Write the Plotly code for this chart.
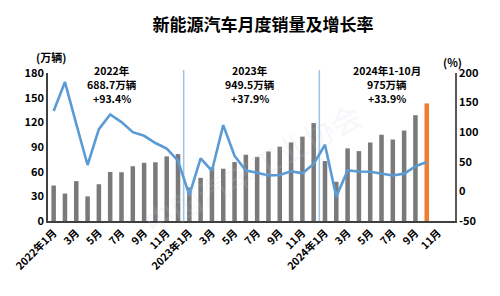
import plotly.graph_objects as go

# ---- data ----
months = ["2022年1月", "2月", "3月", "4月", "5月", "6月", "7月", "8月", "9月", "10月", "11月", "12月",
          "2023年1月", "2月", "3月", "4月", "5月", "6月", "7月", "8月", "9月", "10月", "11月", "12月",
          "2024年1月", "2月", "3月", "4月", "5月", "6月", "7月", "8月", "9月", "10月", "11月", "12月"]
sales = [43.1, 33.4, 48.4, 29.9, 44.7, 59.6, 59.3, 66.6, 70.8, 71.4, 78.6, 81.4,
         40.8, 52.5, 65.3, 63.6, 71.7, 80.6, 78.0, 84.6, 90.4, 95.6, 102.6, 119.1,
         72.9, 47.7, 88.3, 85.0, 95.5, 104.9, 99.1, 110.0, 128.7, 143.0]
growth = [135.8, 184.7, 114.0, 44.6, 105.2, 130.0, 117.0, 100.0, 93.9, 81.7, 72.3, 51.8,
          -6.3, 55.9, 34.8, 112.0, 60.2, 35.2, 31.6, 27.0, 27.7, 33.9, 30.5, 46.4,
          78.8, -9.2, 35.3, 33.5, 33.3, 30.1, 27.0, 30.0, 42.3, 49.6]
note_years = ["2022年", "2023年", "2024年1-10月"]
note_totals = ["688.7万辆", "949.5万辆", "975万辆"]
note_growth = ["+93.4%", "+37.9%", "+33.9%"]
left_ticks = [0, 30, 60, 90, 120, 150, 180]
right_ticks = [-50, 0, 50, 100, 150, 200]

x_data = list(range(len(sales)))
bar_colors = ["#7A7A7A"] * (len(sales) - 1) + ["#ED7D31"]
tick_idx = list(range(0, len(months), 2))

FONT = "Noto Sans CJK SC"
W, H = 500, 296
ML, MR, MT, MB = 43, 45, 73, 75
pw, ph = W - ML - MR, H - MT - MB


def px(x):
    return (x - ML) / pw


def py(y):
    return (H - MB - y) / ph


fig = go.Figure()
fig.add_trace(go.Bar(x=x_data, y=sales, marker=dict(color=bar_colors, line=dict(width=0)),
                     yaxis="y", width=0.4, showlegend=False))
fig.add_trace(go.Scatter(x=x_data, y=growth, mode="lines", yaxis="y2",
                         line=dict(color="#5B9BD5", width=2.6), showlegend=False))

# year separators
for xs in (11.5, 23.5):
    fig.add_shape(type="line", xref="x", yref="paper", x0=xs, x1=xs, y0=0, y1=1.02,
                  line=dict(color="#9DC3E6", width=1.5), layer="below")

# faint watermark
fig.add_annotation(text="中国汽车工业协会", x=px(250), y=py(168), xref="paper", yref="paper",
                   showarrow=False, textangle=-28,
                   font=dict(family=FONT, size=30, color="rgba(200,210,225,0.18)"))

# year notes
note_x = [108, 247, 386]
for i, cx in enumerate(note_x):
    for txt, cy in ((note_years[i], 70.5), (note_totals[i], 84.5), (note_growth[i], 98.5)):
        fig.add_annotation(text=f"<b>{txt}</b>", x=px(cx), y=py(cy), xref="paper", yref="paper",
                           showarrow=False, xanchor="center", yanchor="middle", borderpad=0,
                           font=dict(family=FONT, size=10.5, color="#000"))

fig.add_annotation(text="<b>(万辆)</b>", x=px(46), y=py(57), xref="paper", yref="paper",
                   showarrow=False, xanchor="center", yanchor="middle",
                   font=dict(family=FONT, size=11, color="#000"))
fig.add_annotation(text="<b>(%)</b>", x=px(452), y=py(62), xref="paper", yref="paper",
                   showarrow=False, xanchor="center", yanchor="middle",
                   font=dict(family=FONT, size=11, color="#000"))

fig.update_layout(
    width=W, height=H,
    margin=dict(l=ML, r=MR, t=MT, b=MB),
    paper_bgcolor="white", plot_bgcolor="white",
    title=dict(text="<b>新能源汽车月度销量及增长率</b>", x=0.526, xanchor="center", y=0.915, yanchor="middle",
               font=dict(family=FONT, size=17, color="#000")),
    xaxis=dict(range=[-0.5, len(months) - 0.5], tickmode="array", tickvals=tick_idx,
               ticktext=[f"<b>{months[i]}</b>" for i in tick_idx], tickangle=-45,
               tickfont=dict(family=FONT, size=10.5, color="#000"), showgrid=False,
               showline=True, linecolor="#404040", linewidth=1.5, ticks="", zeroline=False),
    yaxis=dict(range=[0, 180], tickvals=left_ticks, ticktext=[f"<b>{v}</b>" for v in left_ticks],
               tickfont=dict(family=FONT, size=11, color="#000"), showgrid=False,
               showline=True, linecolor="#404040", linewidth=1.5, ticks="", zeroline=False),
    yaxis2=dict(range=[-50, 200], tickvals=right_ticks, ticktext=[f"<b>{v}</b>" for v in right_ticks],
                overlaying="y", side="right", tickfont=dict(family=FONT, size=11, color="#000"),
                showgrid=False, showline=True, linecolor="#595959", linewidth=1.5, ticks="",
                zeroline=False),
)

fig.write_html("out.html")
